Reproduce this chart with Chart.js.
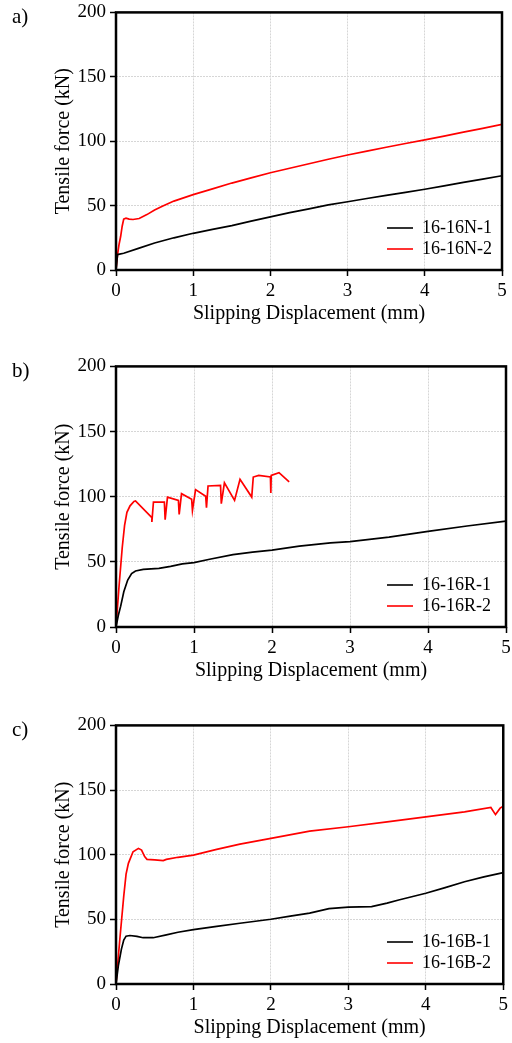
<!DOCTYPE html>
<html>
<head>
<meta charset="utf-8">
<script src="https://cdn.jsdelivr.net/npm/chart.js@4/dist/chart.umd.min.js"></script>
<style>
  body { margin: 0; background: #fff; width: 512px; height: 1043px; overflow: hidden; position: relative; font-family: 'Liberation Serif', serif; }
  canvas { position: absolute; left: 0; }
  .tag { position: absolute; left: 12px; font-size: 21px; color: #000; }
</style>
</head>
<body>
<canvas id="chartA" width="512" height="333" style="top:-3px"></canvas>
<canvas id="chartB" width="516" height="336" style="top:351px"></canvas>
<canvas id="chartC" width="512" height="334" style="top:710px"></canvas>
<div class="tag" style="top:4px">a)</div>
<div class="tag" style="top:358px">b)</div>
<div class="tag" style="top:717px">c)</div>
<script>
// a) 16-16N
const xN1 = [0, 0.02, 0.1, 0.3, 0.5, 0.75, 1.0, 1.25, 1.5, 1.75, 2.0, 2.25, 2.5, 2.75, 3.0, 3.25, 3.5, 3.75, 4.0, 4.25, 4.5, 4.75, 5.0];
const yN1 = [0, 12, 13, 17, 21, 25, 28.5, 31.5, 34.5, 38, 41.3, 44.5, 47.5, 50.5, 53, 55.5, 58, 60.3, 62.7, 65.3, 68, 70.6, 73.2];
const xN2 = [0, 0.02, 0.04, 0.06, 0.08, 0.1, 0.13, 0.17, 0.22, 0.3, 0.4, 0.5, 0.6, 0.75, 1.0, 1.25, 1.5, 1.75, 2.0, 2.25, 2.5, 2.75, 3.0, 3.25, 3.5, 3.75, 4.0, 4.25, 4.5, 4.75, 5.0];
const yN2 = [0, 12, 20, 26, 34, 39.5, 40.3, 39.5, 39.2, 40, 43, 46.5, 49.5, 53.5, 58.5, 63, 67.5, 71.5, 75.5, 79, 82.5, 86, 89.3, 92.3, 95.3, 98.2, 101, 104, 107, 110, 113];

// b) 16-16R
const xR1 = [0, 0.03, 0.06, 0.1, 0.15, 0.2, 0.25, 0.35, 0.55, 0.7, 0.85, 1.0, 1.2, 1.5, 1.75, 2.0, 2.35, 2.75, 3.0, 3.5, 4.0, 4.5, 5.0];
const yR1 = [0, 9, 16, 27, 36, 41, 43, 44.2, 45, 46.5, 48.5, 49.4, 52, 55.5, 57.5, 59, 62, 64.5, 65.5, 69, 73.4, 77.5, 81.3];
const xR2 = [0, 0.04, 0.08, 0.11, 0.14, 0.18, 0.23, 0.25, 0.46, 0.46, 0.48, 0.62, 0.63, 0.66, 0.80, 0.81, 0.84, 0.97, 0.98, 1.02, 1.15, 1.16, 1.18, 1.34, 1.35, 1.39, 1.52, 1.59, 1.74, 1.76, 1.83, 1.98, 1.985, 1.99, 2.09, 2.22];
const yR2 = [0, 32, 61, 78, 88, 93, 96.4, 96.7, 84, 80.6, 95.9, 95.9, 82.4, 99.7, 97.2, 86.4, 102.3, 98, 89.5, 105.4, 100.3, 91.6, 108.2, 108.7, 94.6, 110.7, 97.2, 113.3, 99.7, 115.1, 116.4, 115.1, 102.8, 116.4, 118.4, 111.3];

// c) 16-16B
const xB1 = [0, 0.03, 0.07, 0.1, 0.13, 0.18, 0.27, 0.35, 0.48, 0.65, 0.8, 1.0, 1.3, 1.6, 2.0, 2.25, 2.5, 2.75, 3.0, 3.3, 3.5, 3.65, 4.0, 4.25, 4.5, 4.75, 5.0];
const yB1 = [0, 14, 27, 34, 37, 37.5, 36.8, 35.8, 35.8, 38, 40, 42, 44.5, 47, 50.1, 52.5, 54.8, 58.3, 59.4, 59.9, 62.5, 65, 70.2, 74.5, 79.1, 82.8, 86.1];
const xB2 = [0, 0.05, 0.1, 0.13, 0.16, 0.22, 0.29, 0.33, 0.37, 0.4, 0.5, 0.61, 0.65, 0.8, 1.0, 1.3, 1.6, 2.0, 2.5, 3.0, 3.5, 4.0, 4.5, 4.84, 4.9, 4.96, 5.0];
const yB2 = [0, 35, 68, 85, 93.3, 102.3, 104.9, 103.6, 98.5, 96.4, 96, 95.4, 96.4, 98, 99.7, 104.1, 108.2, 112.6, 118.2, 121.6, 125.4, 129.3, 133.1, 136.5, 131, 136, 137.5];

const serif = 'Liberation Serif';

function pts(xs, ys) {
    return xs.map((x, i) => ({ x: x, y: ys[i] }));
}

// plot frame + legend inside the plot, bottom right
const frame = {
    id: 'frame',
    afterDraw(chart) {
        const ctx = chart.ctx;
        const a = chart.chartArea;
        ctx.save();
        ctx.font = '18px "' + serif + '"';
        ctx.textBaseline = 'middle';
        chart.data.datasets.forEach((ds, i) => {
            const y = a.bottom - 42 + i * 21;
            ctx.strokeStyle = ds.borderColor;
            ctx.lineWidth = 1.6;
            ctx.beginPath();
            ctx.moveTo(a.left + 271, y);
            ctx.lineTo(a.left + 297, y);
            ctx.stroke();
            ctx.fillStyle = '#000';
            ctx.fillText(ds.label, a.left + 306, y);
        });
        ctx.lineWidth = 2.5;
        ctx.strokeStyle = '#000';
        ctx.strokeRect(a.left, a.top, a.right - a.left, a.bottom - a.top);
        ctx.restore();
    }
};

function makeChart(id, names, series, padTop, padRight) {
    new Chart(document.getElementById(id), {
        type: 'line',
        data: {
            datasets: [
                { label: names[0], data: pts(series[0], series[1]), borderColor: '#000000' },
                { label: names[1], data: pts(series[2], series[3]), borderColor: '#ff0000' }
            ]
        },
        options: {
            responsive: false,
            animation: false,
            elements: { line: { borderWidth: 1.7, tension: 0 }, point: { radius: 0 } },
            layout: { padding: { top: padTop, right: padRight, left: 0, bottom: 0 } },
            plugins: { legend: { display: false }, tooltip: { enabled: false } },
            scales: {
                x: {
                    type: 'linear', min: 0, max: 5,
                    afterFit: s => { s.height = 60; },
                    ticks: { stepSize: 1, padding: 4, color: '#000', maxRotation: 0, font: { family: serif, size: 19 } },
                    grid: { color: '#d6d6d6', tickColor: '#000', tickLength: 6, tickWidth: 1.5 },
                    border: { display: false, dash: [2, 1] },
                    title: { display: true, text: 'Slipping Displacement (mm)', color: '#000', font: { family: serif, size: 20 }, padding: { top: 0, bottom: 4 } }
                },
                y: {
                    min: 0, max: 200,
                    afterFit: s => { s.width = 116; },
                    ticks: { stepSize: 50, padding: 4, color: '#000', font: { family: serif, size: 19 } },
                    grid: { color: '#d6d6d6', tickColor: '#000', tickLength: 6, tickWidth: 1.5 },
                    border: { display: false, dash: [2, 1] },
                    title: { display: true, text: 'Tensile force (kN)', color: '#000', font: { family: serif, size: 20 }, padding: { top: 52, bottom: 0 } }
                }
            }
        },
        plugins: [frame]
    });
}

makeChart('chartA', ['16-16N-1', '16-16N-2'], [xN1, yN1, xN2, yN2], 12.5, 10);
makeChart('chartB', ['16-16R-1', '16-16R-2'], [xR1, yR1, xR2, yR2], 12, 10);
makeChart('chartC', ['16-16B-1', '16-16B-2'], [xB1, yB1, xB2, yB2], 12, 8);
</script>
</body>
</html>
